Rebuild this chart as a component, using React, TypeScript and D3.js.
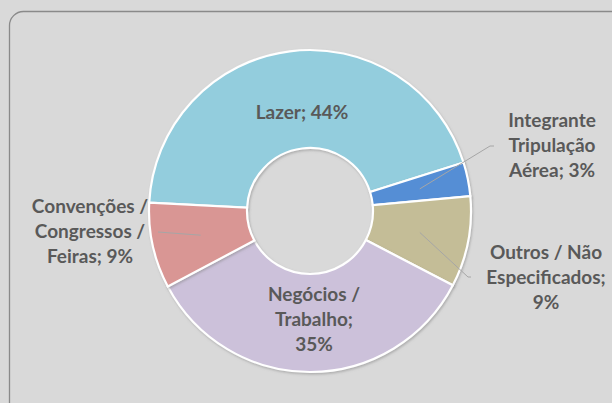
import React from "react"
import { pie, arc, PieArcDatum } from "d3"

// motivos da viagem (%)
const categories = [
  "Lazer",
  "Integrante Tripulação Aérea",
  "Outros / Não Especificados",
  "Negócios / Trabalho",
  "Convenções / Congressos / Feiras",
]
const values = [44.3, 3.4, 9.1, 34.6, 8.6]
const colors = ["#93CDDD", "#558ED5", "#C4BD97", "#CCC1DA", "#D99694"]
// linhas de texto de cada rótulo (o valor é acrescentado na última)
const labelLines = [
  ["Lazer;"],
  ["Integrante", "Tripulação", "Aérea;"],
  ["Outros / Não", "Especificados;", ""],
  ["Negócios /", "Trabalho;", ""],
  ["Convenções /", "Congressos /", "Feiras;"],
]

const W = 612
const H = 403
const cx = 310
const cy = 211
const outerR = 161
const innerR = 63
const lineH = 25

// posição dos rótulos (centro x, linha de base da 1a linha) e pontas das linhas de chamada
const labelPos = [
  { x: 302, y: 119, leader: null as null | [number, number][] },
  { x: 552, y: 127, leader: [[490, 146], [494, 146]] },
  { x: 546, y: 259, leader: [[468, 277], [471, 277]] },
  { x: 314, y: 301, leader: null },
  { x: 90, y: 213, leader: [[158, 232]] },
]

export default function App() {
  const startAngle = (-87 * Math.PI) / 180
  const pieGen = pie<number>()
    .sort(null)
    .value((d) => d)
    .startAngle(startAngle)
    .endAngle(startAngle + 2 * Math.PI)
  const arcs = pieGen(values)
  const arcGen = arc<PieArcDatum<number>>().innerRadius(innerR).outerRadius(outerR)

  return (
    <svg
      width={W}
      height={H}
      style={{ position: "fixed", left: 0, top: 0 }}
      fontFamily="Lato, 'Open Sans', sans-serif"
    >
      <defs>
        <filter id="sombra" x="-10%" y="-10%" width="120%" height="120%">
          <feDropShadow dx="1" dy="1.5" stdDeviation="1" floodColor="#808080" floodOpacity="0.5" />
        </filter>
      </defs>
      <rect x={0} y={0} width={W} height={H} fill="#D9D9D9" />
      <rect x={9.5} y={11.5} width={W + 20} height={H + 20} rx={14} fill="#D9D9D9" stroke="#8A8A8A" strokeWidth={1.3} />

      <g transform={`translate(${cx},${cy})`}>
        {arcs.map((a, i) => (
          <path
            key={i}
            d={arcGen(a) || ""}
            fill={colors[i]}
            stroke="#FFFFFF"
            strokeWidth={2.2}
            filter="url(#sombra)"
          />
        ))}
      </g>

      {arcs.map((a, i) => {
        const lp = labelPos[i]
        if (!lp.leader) return null
        const c = arcGen.centroid(a)
        const pts = [[c[0] + cx, c[1] + cy], ...lp.leader]
        return (
          <polyline
            key={"l" + i}
            points={pts.map((p) => p.join(",")).join(" ")}
            fill="none"
            stroke="#A6A6A6"
            strokeWidth={1}
          />
        )
      })}

      {arcs.map((a, i) => {
        const lp = labelPos[i]
        const lines = labelLines[i].slice()
        const pct = Math.round(a.data) + "%"
        const last = lines.length - 1
        lines[last] = lines[last] ? lines[last] + " " + pct : pct
        return (
          <text
            key={"t" + i}
            x={lp.x}
            y={lp.y}
            textAnchor="middle"
            fontSize={19}
            fontWeight={700}
            fill="#595959"
          >
            {lines.map((s, j) => (
              <tspan key={j} x={lp.x} dy={j === 0 ? 0 : lineH}>
                {s}
              </tspan>
            ))}
          </text>
        )
      })}
    </svg>
  )
}
